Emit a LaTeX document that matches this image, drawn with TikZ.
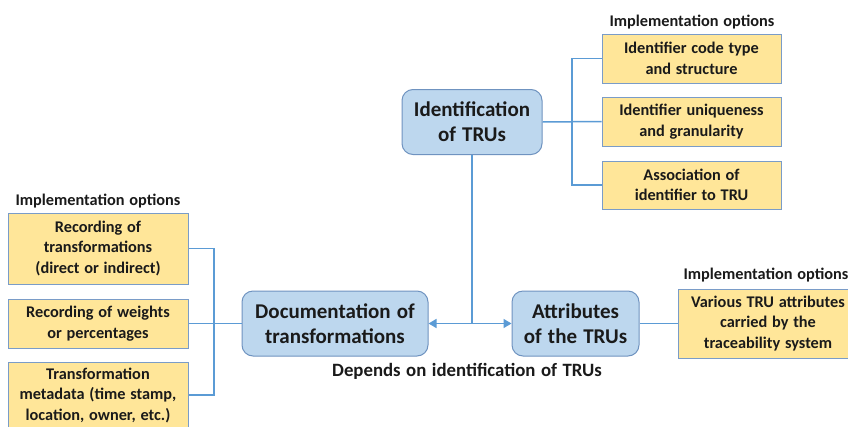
\documentclass[tikz,border=0pt]{standalone}
\usepackage{fontspec}
\setmainfont{Carlito}[WordSpace={1.3}]
\usetikzlibrary{arrows.meta}
\definecolor{bluefill}{HTML}{BDD7EE}
\definecolor{blueedge}{HTML}{6F93C0}
\definecolor{yellowfill}{HTML}{FFE699}
\definecolor{yellowedge}{HTML}{7A9CC8}
\definecolor{linecol}{HTML}{5B9BD5}
\definecolor{textcol}{HTML}{1A1A1A}
\begin{document}
\begin{tikzpicture}[x=1pt,y=-1pt,
  mainbox/.style={draw=blueedge, fill=bluefill, line width=1pt, rounded corners=11pt,
    align=center, inner sep=0pt, minimum height=65pt, text=textcol,
    font=\fontsize{21}{25}\selectfont\bfseries},
  optbox/.style={draw=yellowedge, fill=yellowfill, line width=1pt, align=center,
    inner sep=0pt, text=textcol, font=\fontsize{16.3}{20.5}\selectfont\bfseries},
  header/.style={inner sep=0pt, text=textcol, font=\fontsize{16.3}{20}\selectfont\bfseries},
  conn/.style={draw=linecol, line width=1.5pt},
  tip/.style={-{Triangle[length=8pt,width=9pt]}}
]
\useasboundingbox (0,0) rectangle (848,426);
\fill[white] (0,0) rectangle (848,426);

% main nodes
\node[mainbox, minimum width=140pt] (ident) at (472,122) {Identification\\of TRUs};
\node[mainbox, minimum width=186pt] (doc) at (335,323.5) {Documentation of\\transformations};
\node[mainbox, minimum width=127pt] (attr) at (575.5,323.5) {Attributes\\of the TRUs};

% right option boxes
\node[header] (hr) at (692,22) {Implementation options};
\node[optbox, minimum width=179pt, minimum height=49pt] (r1) at (691.5,58.5) {Identifier code type\\and structure};
\node[optbox, minimum width=179pt, minimum height=49pt] (r2) at (691.5,121.5) {Identifier uniqueness\\and granularity};
\node[optbox, minimum width=179pt, minimum height=48pt] (r3) at (691.5,185) {Association of\\identifier to TRU};

% left option boxes
\node[header] (hl) at (98,201) {Implementation options};
\node[optbox, minimum width=180pt, minimum height=71pt] (l1) at (98,248.5) {Recording of\\transformations\\(direct or indirect)};
\node[optbox, minimum width=180pt, minimum height=49pt] (l2) at (98,323.5) {Recording of weights\\or percentages};
\node[optbox, minimum width=180pt, minimum height=66pt] (l3) at (98,395) {Transformation\\metadata (time stamp,\\location, owner, etc.)};

% attributes option box
\node[header] (ha) at (766,275) {Implementation options};
\node[optbox, minimum width=180pt, minimum height=69pt] (a1) at (768,323.5) {Various TRU attributes\\carried by the\\traceability system};

% label
\node[inner sep=0pt, text=textcol, font=\fontsize{18.8}{22}\selectfont\bfseries] (dep) at (467,371) {Depends on identification of TRUs};

% connectors: identification bracket
\coordinate (jr) at (572,121.5);
\draw[conn] (ident.east) -- (r2.west);
\draw[conn] (r1.west) -| (jr) |- (r3.west);

% left bracket
\coordinate (jl) at (214,323.5);
\draw[conn] (l2.east) -- (doc.west);
\draw[conn] (l1.east) -| (jl) |- (l3.east);

% attributes to option
\draw[conn] (attr.east) -- (a1.west);

% dependency arrows
\coordinate (j) at (ident.south |- doc.east);
\draw[conn] (ident.south) -- (j);
\draw[conn, tip] (j) -- (doc.east);
\draw[conn, tip] (j) -- (attr.west);
\end{tikzpicture}
\end{document}
